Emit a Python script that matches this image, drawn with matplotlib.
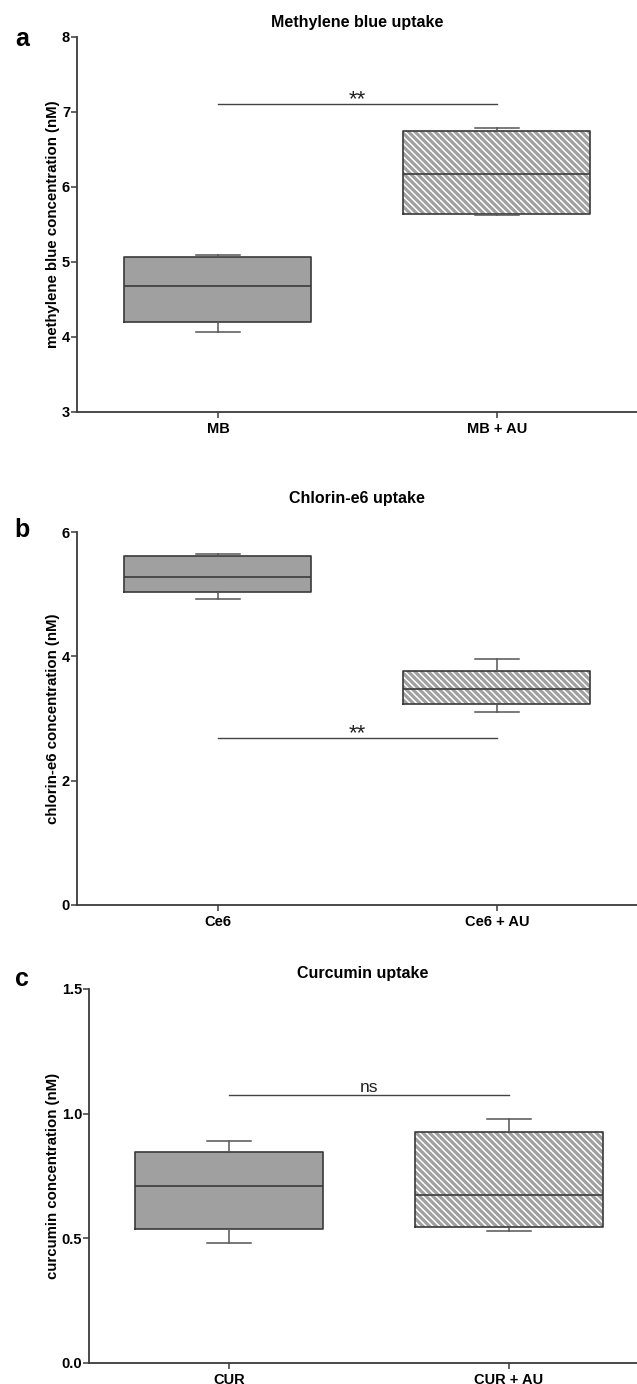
import matplotlib
matplotlib.use('Agg')
import matplotlib.pyplot as plt
from matplotlib.ticker import FormatStrFormatter

plt.rcParams['font.family'] = ['Liberation Sans', 'DejaVu Sans']
plt.rcParams['font.weight'] = 'bold'
plt.rcParams['hatch.linewidth'] = 1.1

# box statistics: (q1, median, q3, whisker low, whisker high)
mb_labels = ['MB', 'MB + AU']
mb_q1 = [4.20, 5.64]
mb_med = [4.68, 6.17]
mb_q3 = [5.07, 6.74]
mb_lo = [4.06, 5.62]
mb_hi = [5.085, 6.79]

ce6_labels = ['Ce6', 'Ce6 + AU']
ce6_q1 = [5.04, 3.23]
ce6_med = [5.28, 3.47]
ce6_q3 = [5.61, 3.77]
ce6_lo = [4.93, 3.10]
ce6_hi = [5.65, 3.95]

cur_labels = ['CUR', 'CUR + AU']
cur_q1 = [0.539, 0.545]
cur_med = [0.709, 0.674]
cur_q3 = [0.845, 0.925]
cur_lo = [0.481, 0.529]
cur_hi = [0.889, 0.980]

# significance bars: (height, label)
sig_mb = (7.10, '**')
sig_ce6 = (2.69, '**')
sig_cur = (1.076, 'ns')

fill = '#a0a0a0'
edge = '#3a3a3a'
wcol = '#555555'


def panel(ax, labels, q1, med, q3, lo, hi, sig, title, ylabel, ylim, yticks,
          xlim, title_pad, sig_off, sig_size):
    stats = []
    for i in range(len(labels)):
        stats.append(dict(q1=q1[i], med=med[i], q3=q3[i],
                          whislo=lo[i], whishi=hi[i], fliers=[]))
    pos = [1, 2]
    # filled boxes (hatched for + AU)
    r1 = ax.bxp(stats, positions=pos, widths=0.67, patch_artist=True,
                showcaps=False, showfliers=False,
                boxprops=dict(facecolor=fill, linewidth=0),
                whiskerprops=dict(linewidth=0),
                medianprops=dict(linewidth=0), zorder=2)
    r1['boxes'][1].set_edgecolor('white')
    r1['boxes'][1].set_linewidth(0)
    r1['boxes'][1].set_hatch('\\' * 5)
    # outlines, medians, whiskers, caps
    ax.bxp(stats, positions=pos, widths=0.67, patch_artist=False,
           showfliers=False, capwidths=0.16,
           boxprops=dict(color=edge, linewidth=1.2),
           whiskerprops=dict(color=wcol, linewidth=1.1),
           capprops=dict(color=wcol, linewidth=1.1),
           medianprops=dict(color=edge, linewidth=1.2), zorder=3)

    ax.plot(pos, [sig[0], sig[0]], color='#444444', lw=1.0, zorder=3)
    ax.text(1.5, sig[0] + sig_off, sig[1], ha='center', va='bottom',
            fontsize=sig_size, fontweight='normal', color='#222222')

    ax.set_xlim(*xlim)
    ax.set_ylim(*ylim)
    ax.set_yticks(yticks)
    ax.set_xticks(pos)
    ax.set_xticklabels(labels, fontsize=10.5)
    ax.tick_params(axis='y', labelsize=10.5, length=4, width=1.1, color=edge, pad=1)
    ax.tick_params(axis='x', length=4, width=1.1, color=edge, pad=3)
    for s in ['top', 'right']:
        ax.spines[s].set_visible(False)
    for s in ['left', 'bottom']:
        ax.spines[s].set_color(edge)
        ax.spines[s].set_linewidth(1.3)
    ax.set_title(title, fontsize=11.5, fontweight='bold', pad=title_pad)
    ax.set_ylabel(ylabel, fontsize=10.8, fontweight='bold', labelpad=1)


fig = plt.figure(figsize=(6.37, 13.84), dpi=100)
H = 1384.0

ax_a = fig.add_axes([77 / 637, 1 - 412 / H, 560 / 637, 375.3 / H])
panel(ax_a, mb_labels, mb_q1, mb_med, mb_q3, mb_lo, mb_hi, sig_mb,
      'Methylene blue uptake', 'methylene blue concentration (nM)',
      (3, 8), [3, 4, 5, 6, 7, 8], (0.495, 2.502), 7, -0.08, 16)

ax_b = fig.add_axes([77 / 637, 1 - 905 / H, 560 / 637, 373 / H])
panel(ax_b, ce6_labels, ce6_q1, ce6_med, ce6_q3, ce6_lo, ce6_hi, sig_ce6,
      'Chlorin-e6 uptake', 'chlorin-e6 concentration (nM)',
      (0, 6), [0, 2, 4, 6], (0.495, 2.502), 21, -0.11, 16)

ax_c = fig.add_axes([89 / 637, 1 - 1363 / H, 548 / 637, 374 / H])
panel(ax_c, cur_labels, cur_q1, cur_med, cur_q3, cur_lo, cur_hi, sig_cur,
      'Curcumin uptake', 'curcumin concentration (nM)',
      (0, 1.5), [0.0, 0.5, 1.0, 1.5], (0.5, 2.457), 8, 0.0, 12.5)
ax_c.yaxis.set_major_formatter(FormatStrFormatter('%.1f'))

for letter, yc in [('a', 39), ('b', 530), ('c', 979)]:
    fig.text(22 / 637, 1 - yc / H, letter, fontsize=18, fontweight='bold',
             ha='center', va='center')

fig.savefig('out.png', dpi=100)
